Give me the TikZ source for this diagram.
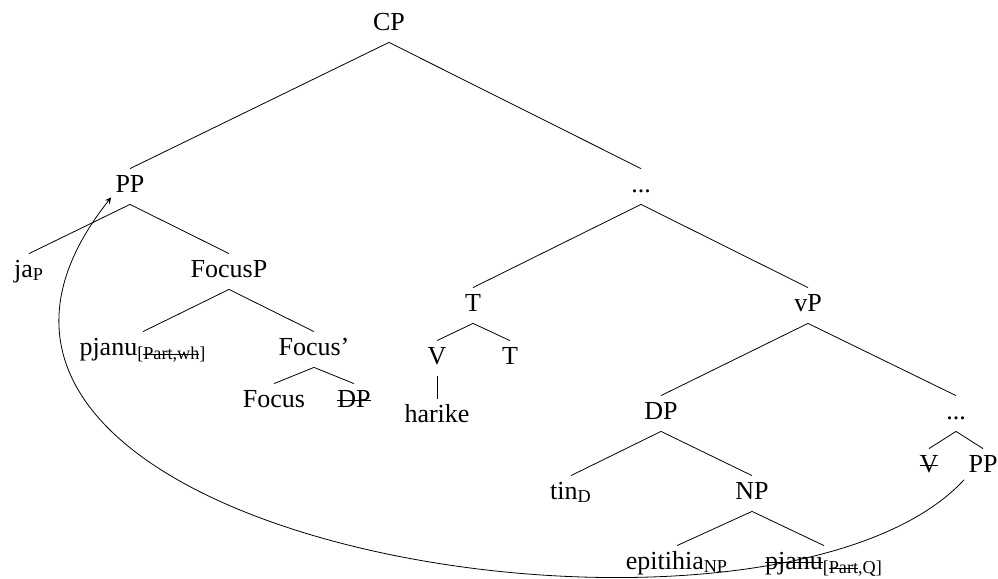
\documentclass[tikz,border=0pt]{standalone}
\usepackage{fontspec}
\setmainfont{Liberation Serif}
\usetikzlibrary{arrows}

% struck-out text (copies)
\newcommand{\strk}[1]{\setbox0\hbox{#1}\rlap{\rule[0.55ex]{\wd0}{0.4pt}}\box0}

\begin{document}
\begin{tikzpicture}
[
x=0.5pt, y=-0.5pt,
every node/.style={anchor=base, inner ysep=0pt, inner xsep=2pt,
  text height=11.5pt, text depth=6pt, font=\fontsize{13}{15}\selectfont}
]
\useasboundingbox (0,0) rectangle (998,579);

\node (cp) at (389,30) {CP};
\node (pp) at (130,192) {PP};
\node (dots) at (641,192) {...};

% left part
\node (jap) at (29,277) {ja\textsubscript{P}};
\node (focusp) at (229,277) {FocusP};
\node (pjanuwh) at (143,355) {pjanu\textsubscript{[\strk{Part,wh}]}};
\node (focusbar) at (314,355) {Focus'};
\node (focus) at (274,407) {Focus};
\node (dpcopy) at (354,407) {\strk{DP}};

% right part
\node (t) at (473,311) {T};
\node (vp) at (808,311) {vP};
\node (v) at (437,364) {V};
\node (tlow) at (510,364) {T};
\node (harike) at (437,422) {harike};
\node (dp) at (661,419) {DP};
\node (dotslow) at (956,419) {...};
\node (vcopy) at (929,472) {\strk{V}};
\node (pplow) at (983,472) {PP};
\node (tind) at (571,499) {tin\textsubscript{D}};
\node (np) at (752,499) {NP};
\node (epitihia) at (677,569) {epitihia\textsubscript{NP}};
\node (pjanuq) at (824,569) {\strk{pjanu}\textsubscript{[\strk{Part},Q]}};

\draw (cp.south) -- (pp.north) (cp.south) -- (dots.north);
\draw (pp.south) -- (jap.north) (pp.south) -- (focusp.north);
\draw (focusp.south) -- (pjanuwh.north) (focusp.south) -- (focusbar.north);
\draw (focusbar.south) -- (focus.north) (focusbar.south) -- (dpcopy.north);
\draw (dots.south) -- (t.north) (dots.south) -- (vp.north);
\draw (t.south) -- (v.north) (t.south) -- (tlow.north);
\draw (v.south) -- (harike.north);
\draw (vp.south) -- (dp.north) (vp.south) -- (dotslow.north);
\draw (dotslow.south) -- (vcopy.north) (dotslow.south) -- (pplow.north);
\draw (dp.south) -- (tind.north) (dp.south) -- (np.north);
\draw (np.south) -- (epitihia.north) (np.south) -- (pjanuq.north);

% movement
\draw[-stealth] (pplow.215) .. controls (770,690) and (-165,545) .. (pp.210);
\end{tikzpicture}
\end{document}
